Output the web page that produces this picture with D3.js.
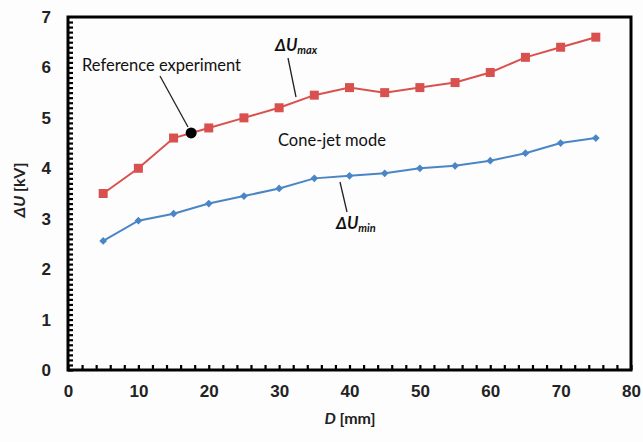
<!DOCTYPE html>
<html>
<head>
<meta charset="utf-8">
<title>Delta U vs D</title>
<style>
  body { margin: 0; background: #fdfdfd; }
  svg { font-family: Lato, 'Open Sans', sans-serif; }
  .tick text { font-size: 17px; font-weight: bold; fill: #222; }
  .ann { font-size: 16.5px; fill: #111; }
</style>
<script src="https://d3js.org/d3.v7.min.js"></script>
</head>
<body>
<svg id="chart" width="643" height="442"></svg>
<script>
// distance D [mm]
var dist = [5, 10, 15, 20, 25, 30, 35, 40, 45, 50, 55, 60, 65, 70, 75];
// upper and lower voltage limit [kV]
var uMax = [3.5, 4.0, 4.6, 4.8, 5.0, 5.2, 5.45, 5.6, 5.5, 5.6, 5.7, 5.9, 6.2, 6.4, 6.6];
var uMin = [2.56, 2.96, 3.1, 3.3, 3.45, 3.6, 3.8, 3.85, 3.9, 4.0, 4.05, 4.15, 4.3, 4.5, 4.6];
var refPoint = [17.5, 4.7];
var xTicks = [0, 10, 20, 30, 40, 50, 60, 70, 80];
var yTicks = [0, 1, 2, 3, 4, 5, 6, 7];

var svg = d3.select("#chart");
var x = d3.scaleLinear().domain([0, 80]).range([68, 631]);
var y = d3.scaleLinear().domain([0, 7]).range([370, 17]);

// minor ticks
svg.append("g")
  .attr("transform", "translate(0,370)")
  .call(d3.axisTop(x).tickValues(d3.range(0, 81, 2)).tickSize(5).tickFormat(""))
  .call(g => g.select(".domain").remove())
  .selectAll("line").attr("stroke", "#000").attr("stroke-width", 2.2);
svg.append("g")
  .attr("transform", "translate(68,0)")
  .call(d3.axisRight(y).tickValues(d3.range(0, 70).map(d => d / 10)).tickSize(5).tickFormat(""))
  .call(g => g.select(".domain").remove())
  .selectAll("line").attr("stroke", "#000").attr("stroke-width", 2.2);

// major tick labels
var gx = svg.append("g")
  .attr("transform", "translate(0,370)")
  .call(d3.axisBottom(x).tickValues(xTicks).tickSize(0).tickPadding(15).tickFormat(d3.format("d")));
gx.select(".domain").remove();
var gy = svg.append("g")
  .attr("transform", "translate(68,0)")
  .call(d3.axisLeft(y).tickValues(yTicks).tickSize(0).tickPadding(17).tickFormat(d3.format("d")));
gy.select(".domain").remove();

// frame
svg.append("rect")
  .attr("x", x(0)).attr("y", y(7))
  .attr("width", x(80) - x(0)).attr("height", y(0) - y(7))
  .attr("fill", "none").attr("stroke", "#000").attr("stroke-width", 3);

var line = d3.line().x((d, i) => x(dist[i])).y(d => y(d));

svg.append("path").datum(uMax)
  .attr("d", line).attr("fill", "none")
  .attr("stroke", "#d9514e").attr("stroke-width", 2);
svg.append("path").datum(uMin)
  .attr("d", line).attr("fill", "none")
  .attr("stroke", "#4a86c5").attr("stroke-width", 2);

svg.selectAll(".sq").data(uMax).enter().append("rect")
  .attr("x", (d, i) => x(dist[i]) - 4.5)
  .attr("y", d => y(d) - 4.5)
  .attr("width", 9).attr("height", 9)
  .attr("fill", "#d9514e");

svg.selectAll(".dm").data(uMin).enter().append("path")
  .attr("d", d3.symbol().type(d3.symbolSquare).size(30))
  .attr("transform", (d, i) => "translate(" + x(dist[i]) + "," + y(d) + ") rotate(45)")
  .attr("fill", "#4a86c5");

svg.append("circle")
  .attr("cx", x(refPoint[0])).attr("cy", y(refPoint[1]))
  .attr("r", 5.5).attr("fill", "#000");

// annotations
function leader(x1, y1, x2, y2) {
  svg.append("line").attr("x1", x1).attr("y1", y1).attr("x2", x2).attr("y2", y2)
    .attr("stroke", "#222").attr("stroke-width", 1.3);
}
svg.append("text").attr("class", "ann").attr("x", 82).attr("y", 71).text("Reference experiment");
leader(160, 76, 188, 127);

var tmax = svg.append("text").attr("class", "ann").attr("x", 275).attr("y", 51)
  .attr("font-size", 15.5).attr("font-weight", "bold").attr("font-style", "italic");
tmax.append("tspan").text("ΔU");
tmax.append("tspan").attr("font-size", 11).attr("dy", 3).text("max");
leader(288, 58, 296, 97);

svg.append("text").attr("class", "ann").attr("x", 278).attr("y", 146).text("Cone-jet mode");

var tmin = svg.append("text").attr("class", "ann").attr("x", 336).attr("y", 229)
  .attr("font-size", 15.5).attr("font-weight", "bold").attr("font-style", "italic");
tmin.append("tspan").text("ΔU");
tmin.append("tspan").attr("font-size", 11).attr("dy", 3).text("min");
leader(340, 182, 347, 212);

// axis titles
var xt = svg.append("text").attr("x", 350).attr("y", 424).attr("text-anchor", "middle")
  .attr("font-size", 16).attr("font-weight", "bold").attr("fill", "#222");
xt.append("tspan").attr("font-style", "italic").text("D");
xt.append("tspan").text(" [mm]");

var yt = svg.append("text").attr("transform", "translate(25,190) rotate(-90)")
  .attr("text-anchor", "middle")
  .attr("font-size", 16).attr("font-weight", "bold").attr("fill", "#222");
yt.append("tspan").attr("font-style", "italic").text("ΔU");
yt.append("tspan").text(" [kV]");
</script>
</body>
</html>
